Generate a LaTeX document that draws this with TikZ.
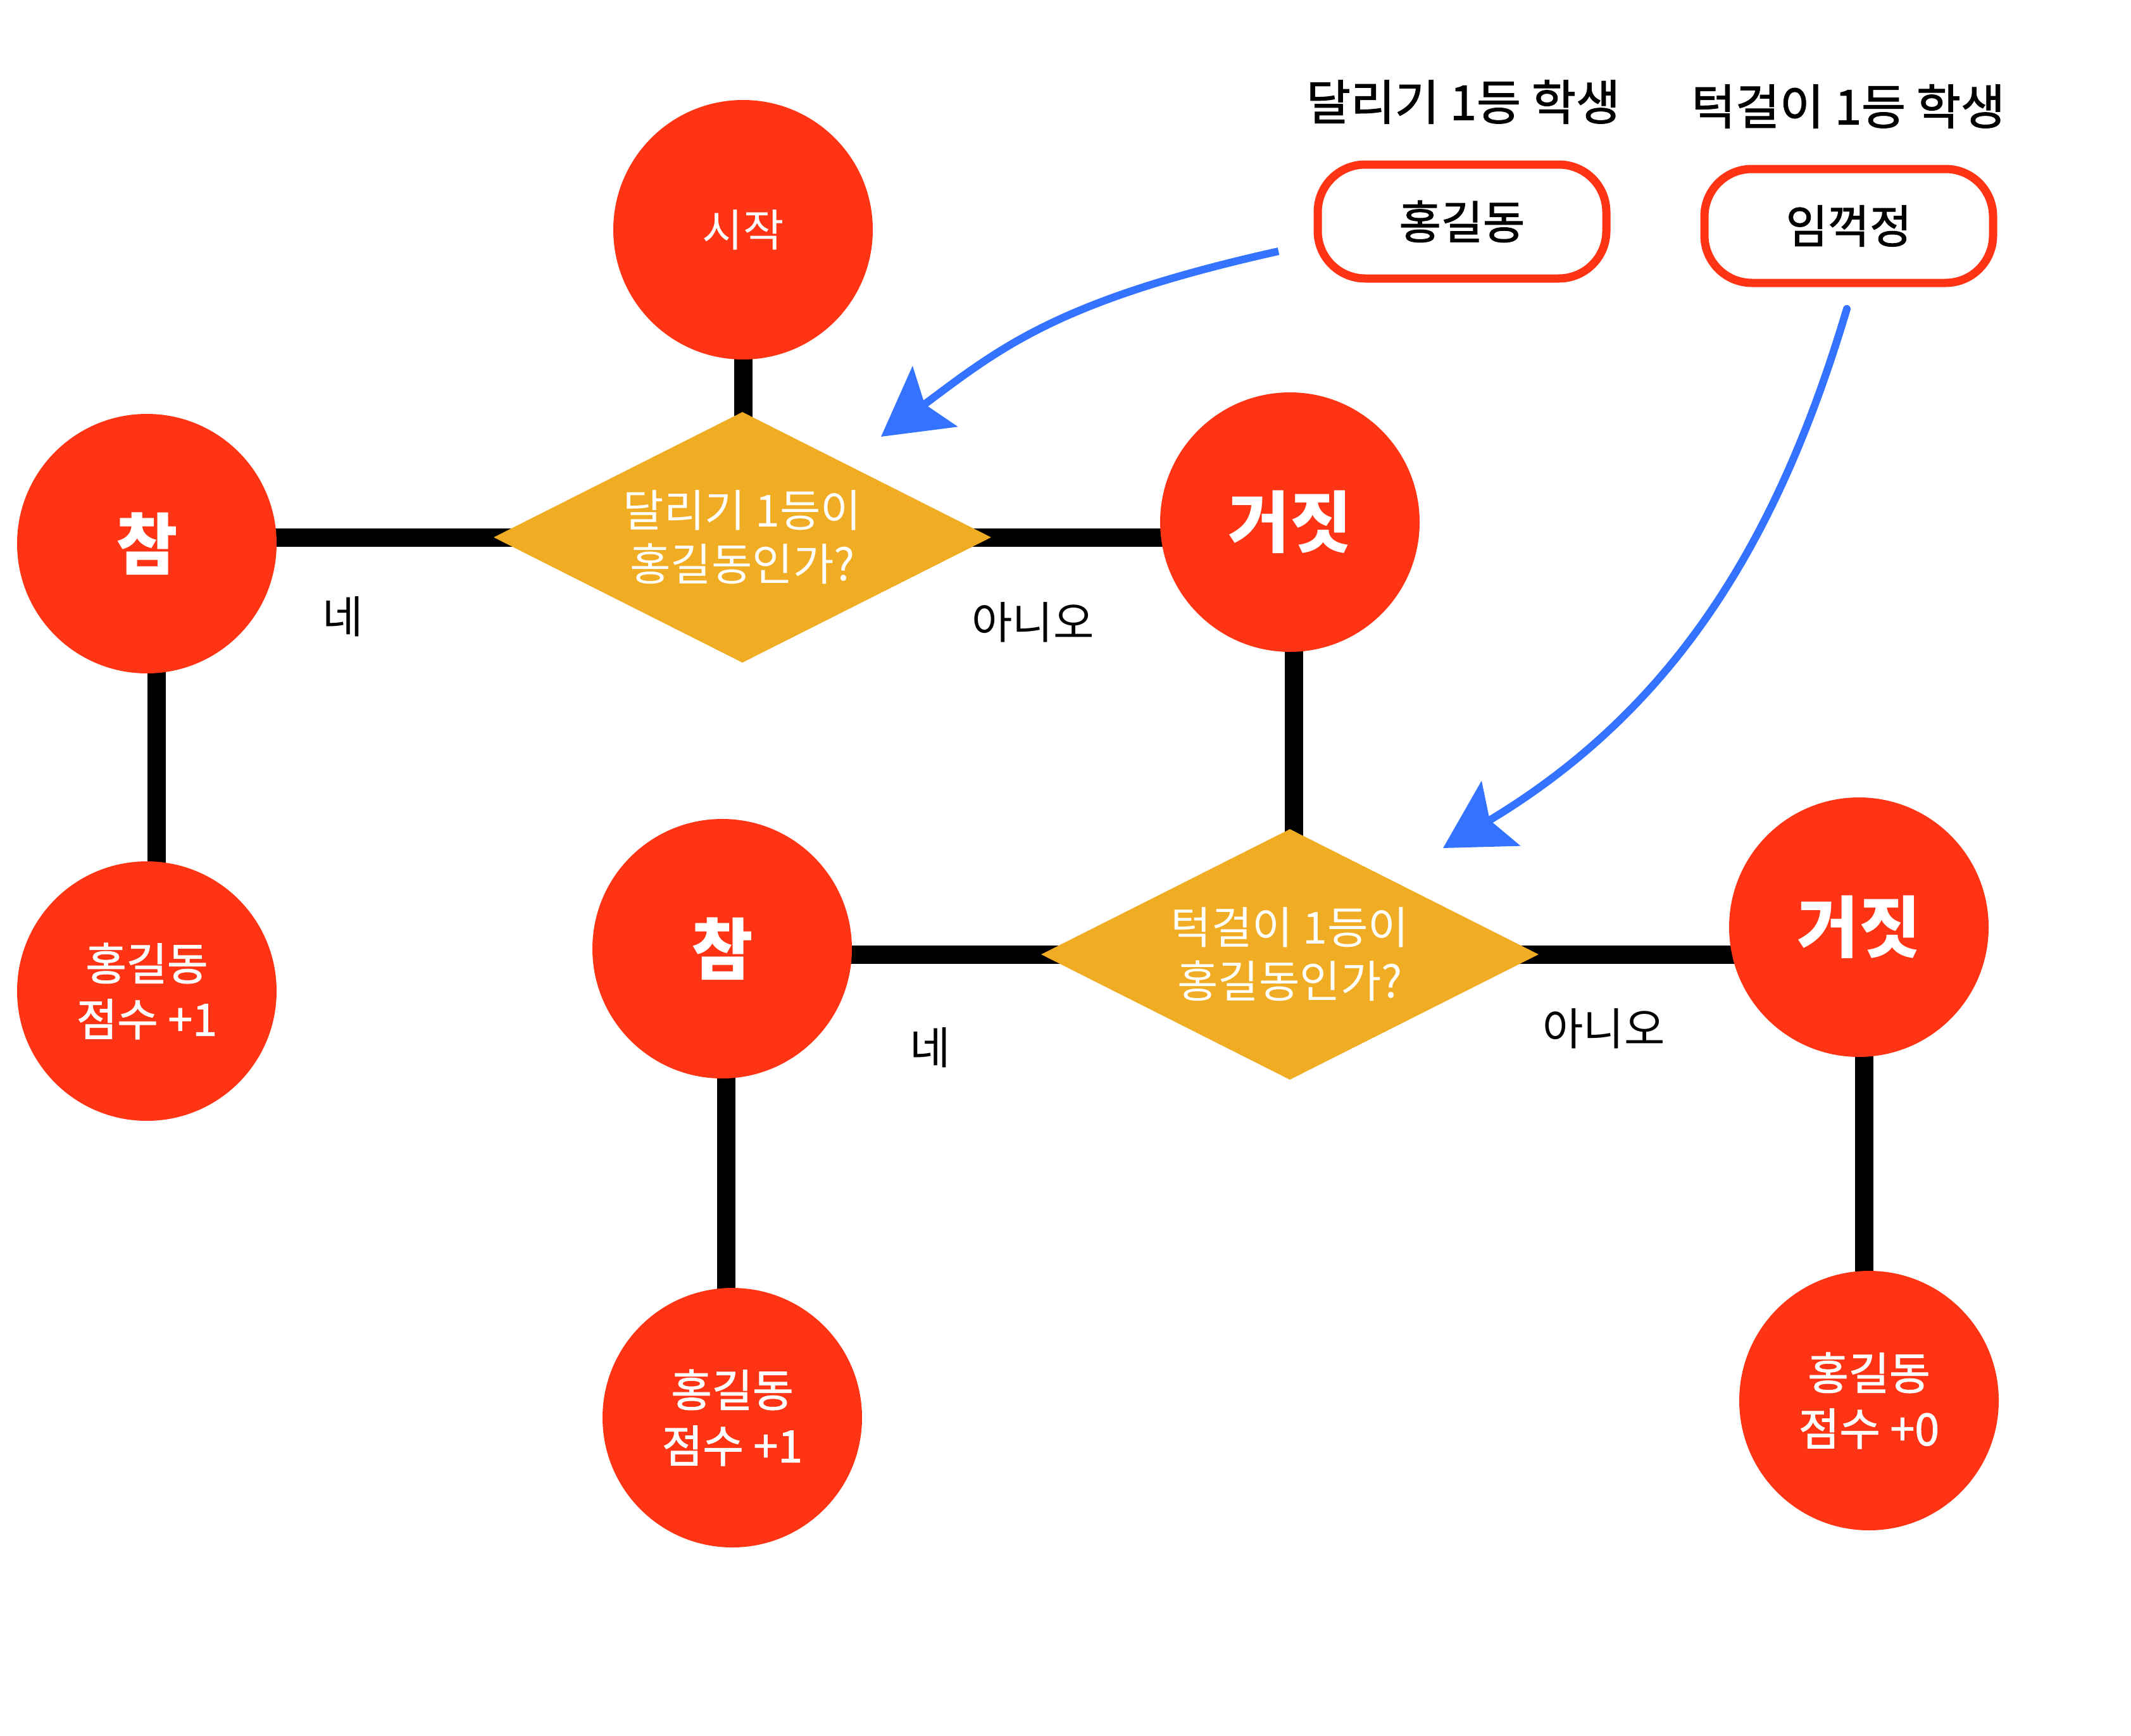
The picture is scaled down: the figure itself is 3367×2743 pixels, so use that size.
\documentclass[tikz,border=0pt]{standalone}
\usepackage{fontspec}
\setmainfont{Noto Sans CJK KR}
\newfontfamily\krmed[FakeBold=1.5]{Noto Sans CJK KR}
\usetikzlibrary{shapes.geometric,arrows.meta,backgrounds}
\definecolor{cred}{RGB}{255,52,20}
\definecolor{corange}{RGB}{240,172,34}
\definecolor{cblue}{RGB}{51,115,255}
\begin{document}
\begin{tikzpicture}[x=1pt,y=-1pt,
  redc/.style={circle, fill=cred, minimum size=410pt, inner sep=0pt, text=white, align=center},
  smalltxt/.style={font=\krmed\fontsize{70}{88}\selectfont},
  starttxt/.style={font=\fontsize{70}{80}\selectfont},
  bigtxt/.style={font=\bfseries\fontsize{106}{120}\selectfont},
  decision/.style={diamond, aspect=2, fill=corange, minimum width=786pt, minimum height=396pt, inner sep=0pt, text=white, align=center, font=\fontsize{70}{85}\selectfont},
  namebox/.style={rectangle, rounded corners=75pt, draw=cred, line width=13pt, fill=white, minimum width=456pt, minimum height=180pt, font=\krmed\fontsize{72}{80}\selectfont},
  heading/.style={font=\krmed\fontsize{76}{80}\selectfont},
  answer/.style={font=\fontsize{70}{80}\selectfont},
  conn/.style={line width=29pt, draw=black},
  hint/.style={line width=12pt, draw=cblue, -{Stealth[length=106pt,width=118pt,inset=20pt]}}
]
\useasboundingbox (0,0) rectangle (3367,2743);

% nodes
\node[redc, starttxt] (start) at (1174,363) {시작};
\node[decision] (d1) at (1173,849) {달리기 1등이\\홍길동인가?};
\node[redc, bigtxt] (c1) at (232,859) {참};
\node[redc, smalltxt] (s1) at (232,1566) {홍길동\\점수 +1};
\node[redc, bigtxt] (f1) at (2038,825) {거짓};
\node[decision] (d2) at (2038,1508) {턱걸이 1등이\\홍길동인가?};
\node[redc, bigtxt] (c2) at (1141,1499) {참};
\node[redc, smalltxt] (s2) at (1157,2240) {홍길동\\점수 +1};
\node[redc, bigtxt] (f2) at (2937,1465) {거짓};
\node[redc, smalltxt] (s3) at (2953,2213) {홍길동\\점수 +0};

\node[namebox] (b1) at (2310,350) {홍길동};
\node[namebox] (b2) at (2921,357) {임꺽정};
\node[heading] (h1) at (2312,161) {달리기 1등 학생};
\node[heading] (h2) at (2920,168) {턱걸이 1등 학생};

\node[answer] (y1) at (542,974) {네};
\node[answer] (n1) at (1632,983) {아니오};
\node[answer] (y2) at (1470,1655) {네};
\node[answer] (n2) at (2534,1625) {아니오};

% connectors behind
\begin{pgfonlayer}{background}
\fill[white] (0,0) rectangle (3367,2743);
\draw[conn] (start.center) -- (start.center |- d1.center);
\draw[conn] (d1.center) -- (d1.center -| c1.center);
\draw[conn] (d1.center) -- (d1.center -| f1.center);
\draw[conn] ([xshift=15pt]c1.center) -- ([xshift=15pt]c1.center |- s1.center);
\draw[conn] ([xshift=6pt]f1.center) -- ([xshift=6pt]f1.center |- d2.center);
\draw[conn] (d2.center) -- (d2.center -| c2.center);
\draw[conn] (d2.center) -- (d2.center -| f2.center);
\draw[conn] ([xshift=6pt]c2.center) -- ([xshift=6pt]c2.center |- s2.center);
\draw[conn] ([xshift=8pt]f2.center) -- ([xshift=8pt]f2.center |- s3.center);
\end{pgfonlayer}

% hint arrows
\coordinate (a1s) at (2020,397);
\coordinate (a1e) at (1392,690);
\coordinate (a2s) at (2918,488);
\coordinate (a2e) at (2280,1340);
\draw[hint] (a1s) .. controls (1670,475) and (1580,550) .. (a1e);
\draw[hint, line cap=round] (a2s) .. controls (2818,823) and (2666,1109) .. (a2e);
\end{tikzpicture}
\end{document}
